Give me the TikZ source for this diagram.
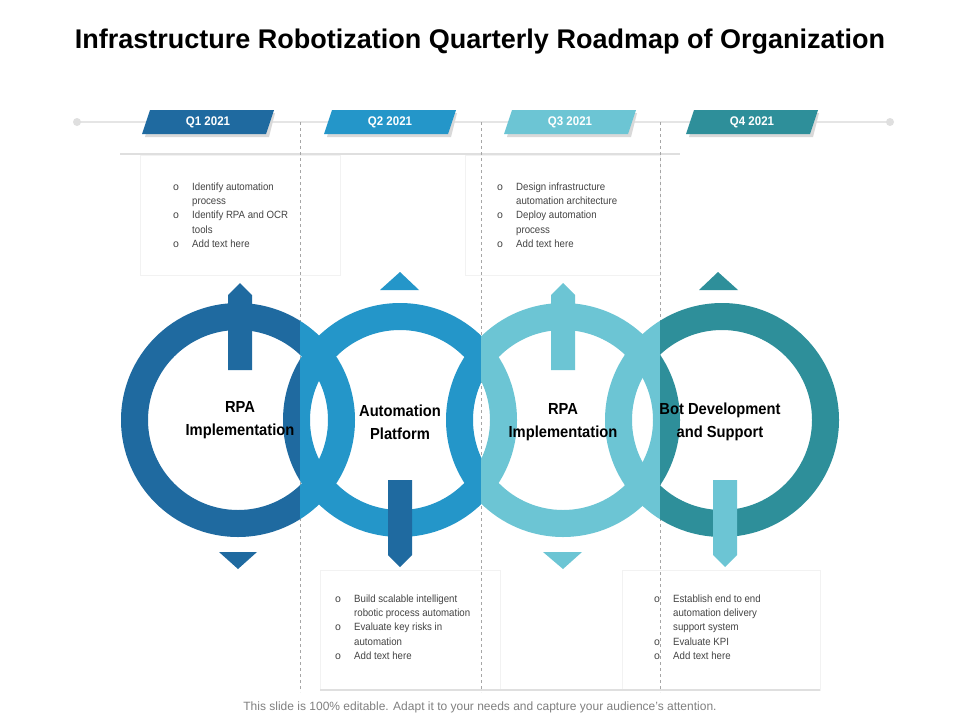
\documentclass[tikz,border=0pt]{standalone}
\usepackage{fontspec}
\setmainfont{Liberation Sans}
\usetikzlibrary{calc}
\definecolor{cA}{HTML}{1F6AA0}
\definecolor{cB}{HTML}{2496C9}
\definecolor{cC}{HTML}{6CC5D4}
\definecolor{cD}{HTML}{2E8F9A}
\definecolor{txt}{HTML}{444444}
\newcommand{\cnd}[1]{\scalebox{0.92}[1]{#1}}
\begin{document}
\begin{tikzpicture}[x=1pt,y=-1pt,
  ringtxt/.style={font=\fontsize{16}{23}\selectfont\bfseries,align=center},
  tabtxt/.style={font=\fontsize{12.5}{14}\selectfont\bfseries,text=white},
  bul/.style={font=\fontsize{10.5}{14.3}\selectfont,text=txt,anchor=north west,inner sep=0},
  dsh/.style={draw=gray!70,dashed,line width=0.6pt}]
\useasboundingbox (0,0) rectangle (960,720);
\fill[white] (0,0) rectangle (960,720);
\node[font=\fontsize{27}{30}\selectfont\bfseries] (title) at (480,42) {Infrastructure Robotization Quarterly Roadmap of Organization};
% timeline
\draw[gray!20,line width=2pt] (77,122) -- (890,122);
\fill[gray!25] (77,122) circle (4);
\fill[gray!25] (890,122) circle (4);
% text boxes
\foreach \a/\b/\c/\d in {140/155/340/275,465/155/660/275,320/570/500/690,622/570/820/690}{
  \draw[gray!10,line width=1pt] (\a,\b) rectangle (\c,\d);}
\draw[gray!25,line width=2pt] (120,154) -- (680,154);
\draw[gray!25,line width=2pt] (320,690) -- (820,690);
% dashed
\foreach \x in {300,481,660}{\draw[dsh] (\x,122) -- (\x,692);}
% rings
\def\ro{117}\def\ri{90}
\coordinate (r1) at (238,420);\coordinate (r2) at (400,420);
\coordinate (r3) at (563,420);\coordinate (r4) at (722,420);
\def\rings{\fill[even odd rule] (r1) circle (\ro) (r1) circle (\ri);
 \fill[even odd rule] (r2) circle (\ro) (r2) circle (\ri);
 \fill[even odd rule] (r3) circle (\ro) (r3) circle (\ri);
 \fill[even odd rule] (r4) circle (\ro) (r4) circle (\ri);}
\foreach \xa/\xb/\col in {0/300/cA,300/481/cB,481/660/cC,660/960/cD}{
\begin{scope}[color=\col]\clip (\xa,0) rectangle (\xb,720);\rings\end{scope}}
% arrows
\fill[cA] (228,370) -- (228,295) -- (240,283) -- (252,295) -- (252,370) -- cycle;
\fill[cC] (551,370) -- (551,295) -- (563,283) -- (575,295) -- (575,370) -- cycle;
\fill[cA] (388,480) -- (388,555) -- (400,567) -- (412,555) -- (412,480) -- cycle;
\fill[cC] (713,480) -- (713,555) -- (725,567) -- (737,555) -- (737,480) -- cycle;
% triangles
\fill[cA] (219,552) -- (257,552) -- (238,569) -- cycle;
\fill[cB] (380,290) -- (419,290) -- (400,272) -- cycle;
\fill[cC] (543,552) -- (582,552) -- (563,569) -- cycle;
\fill[cD] (699,290) -- (738,290) -- (718,272) -- cycle;
% ring labels
\node[ringtxt] (l1) at (240,420) {\cnd{RPA}\\\cnd{Implementation}};
\node[ringtxt] (l2) at (400,422) {\cnd{Automation}\\\cnd{Platform}};
\node[ringtxt] (l3) at (563,422) {\cnd{RPA}\\\cnd{Implementation}};
\node[ringtxt] (l4) at (720,422) {\cnd{Bot Development}\\\cnd{and Support}};
% tabs
\foreach \cx/\col/\t [count=\i] in {208/cA/Q1 2021,390/cB/Q2 2021,570/cC/Q3 2021,752/cD/Q4 2021}{
  \fill[gray!30] (\cx-63,137) -- (\cx+61,137) -- (\cx+67,113) -- (\cx-57,113) -- cycle;
  \fill[\col] (\cx-66,134) -- (\cx+58,134) -- (\cx+66,110) -- (\cx-58,110) -- cycle;
  \node[tabtxt] (t\i) at (\cx,122) {\cnd{\t}};}
% bullet texts
\node[bul] (b1) at (173,180) {\begin{tabular}{@{}p{19pt}@{}l@{}}o&\cnd{Identify automation}\\&\cnd{process}\\o&\cnd{Identify RPA and OCR}\\&\cnd{tools}\\o&\cnd{Add text here}\end{tabular}};
\node[bul] (b3) at (497,180) {\begin{tabular}{@{}p{19pt}@{}l@{}}o&\cnd{Design infrastructure}\\&\cnd{automation architecture}\\o&\cnd{Deploy automation}\\&\cnd{process}\\o&\cnd{Add text here}\end{tabular}};
\node[bul] (b2) at (335,592) {\begin{tabular}{@{}p{19pt}@{}l@{}}o&\cnd{Build scalable intelligent}\\&\cnd{robotic process automation}\\o&\cnd{Evaluate key risks in}\\&\cnd{automation}\\o&\cnd{Add text here}\end{tabular}};
\node[bul] (b4) at (654,592) {\begin{tabular}{@{}p{19pt}@{}l@{}}o&\cnd{Establish  end to end}\\&\cnd{automation delivery}\\&\cnd{support system}\\o&\cnd{Evaluate  KPI}\\o&\cnd{Add text here}\end{tabular}};
\node[font=\fontsize{12}{13}\selectfont,text=gray] (foot) at (480,707) {This slide is 100\% editable. Adapt it to your needs and capture your audience's attention.};
\end{tikzpicture}
\end{document}
